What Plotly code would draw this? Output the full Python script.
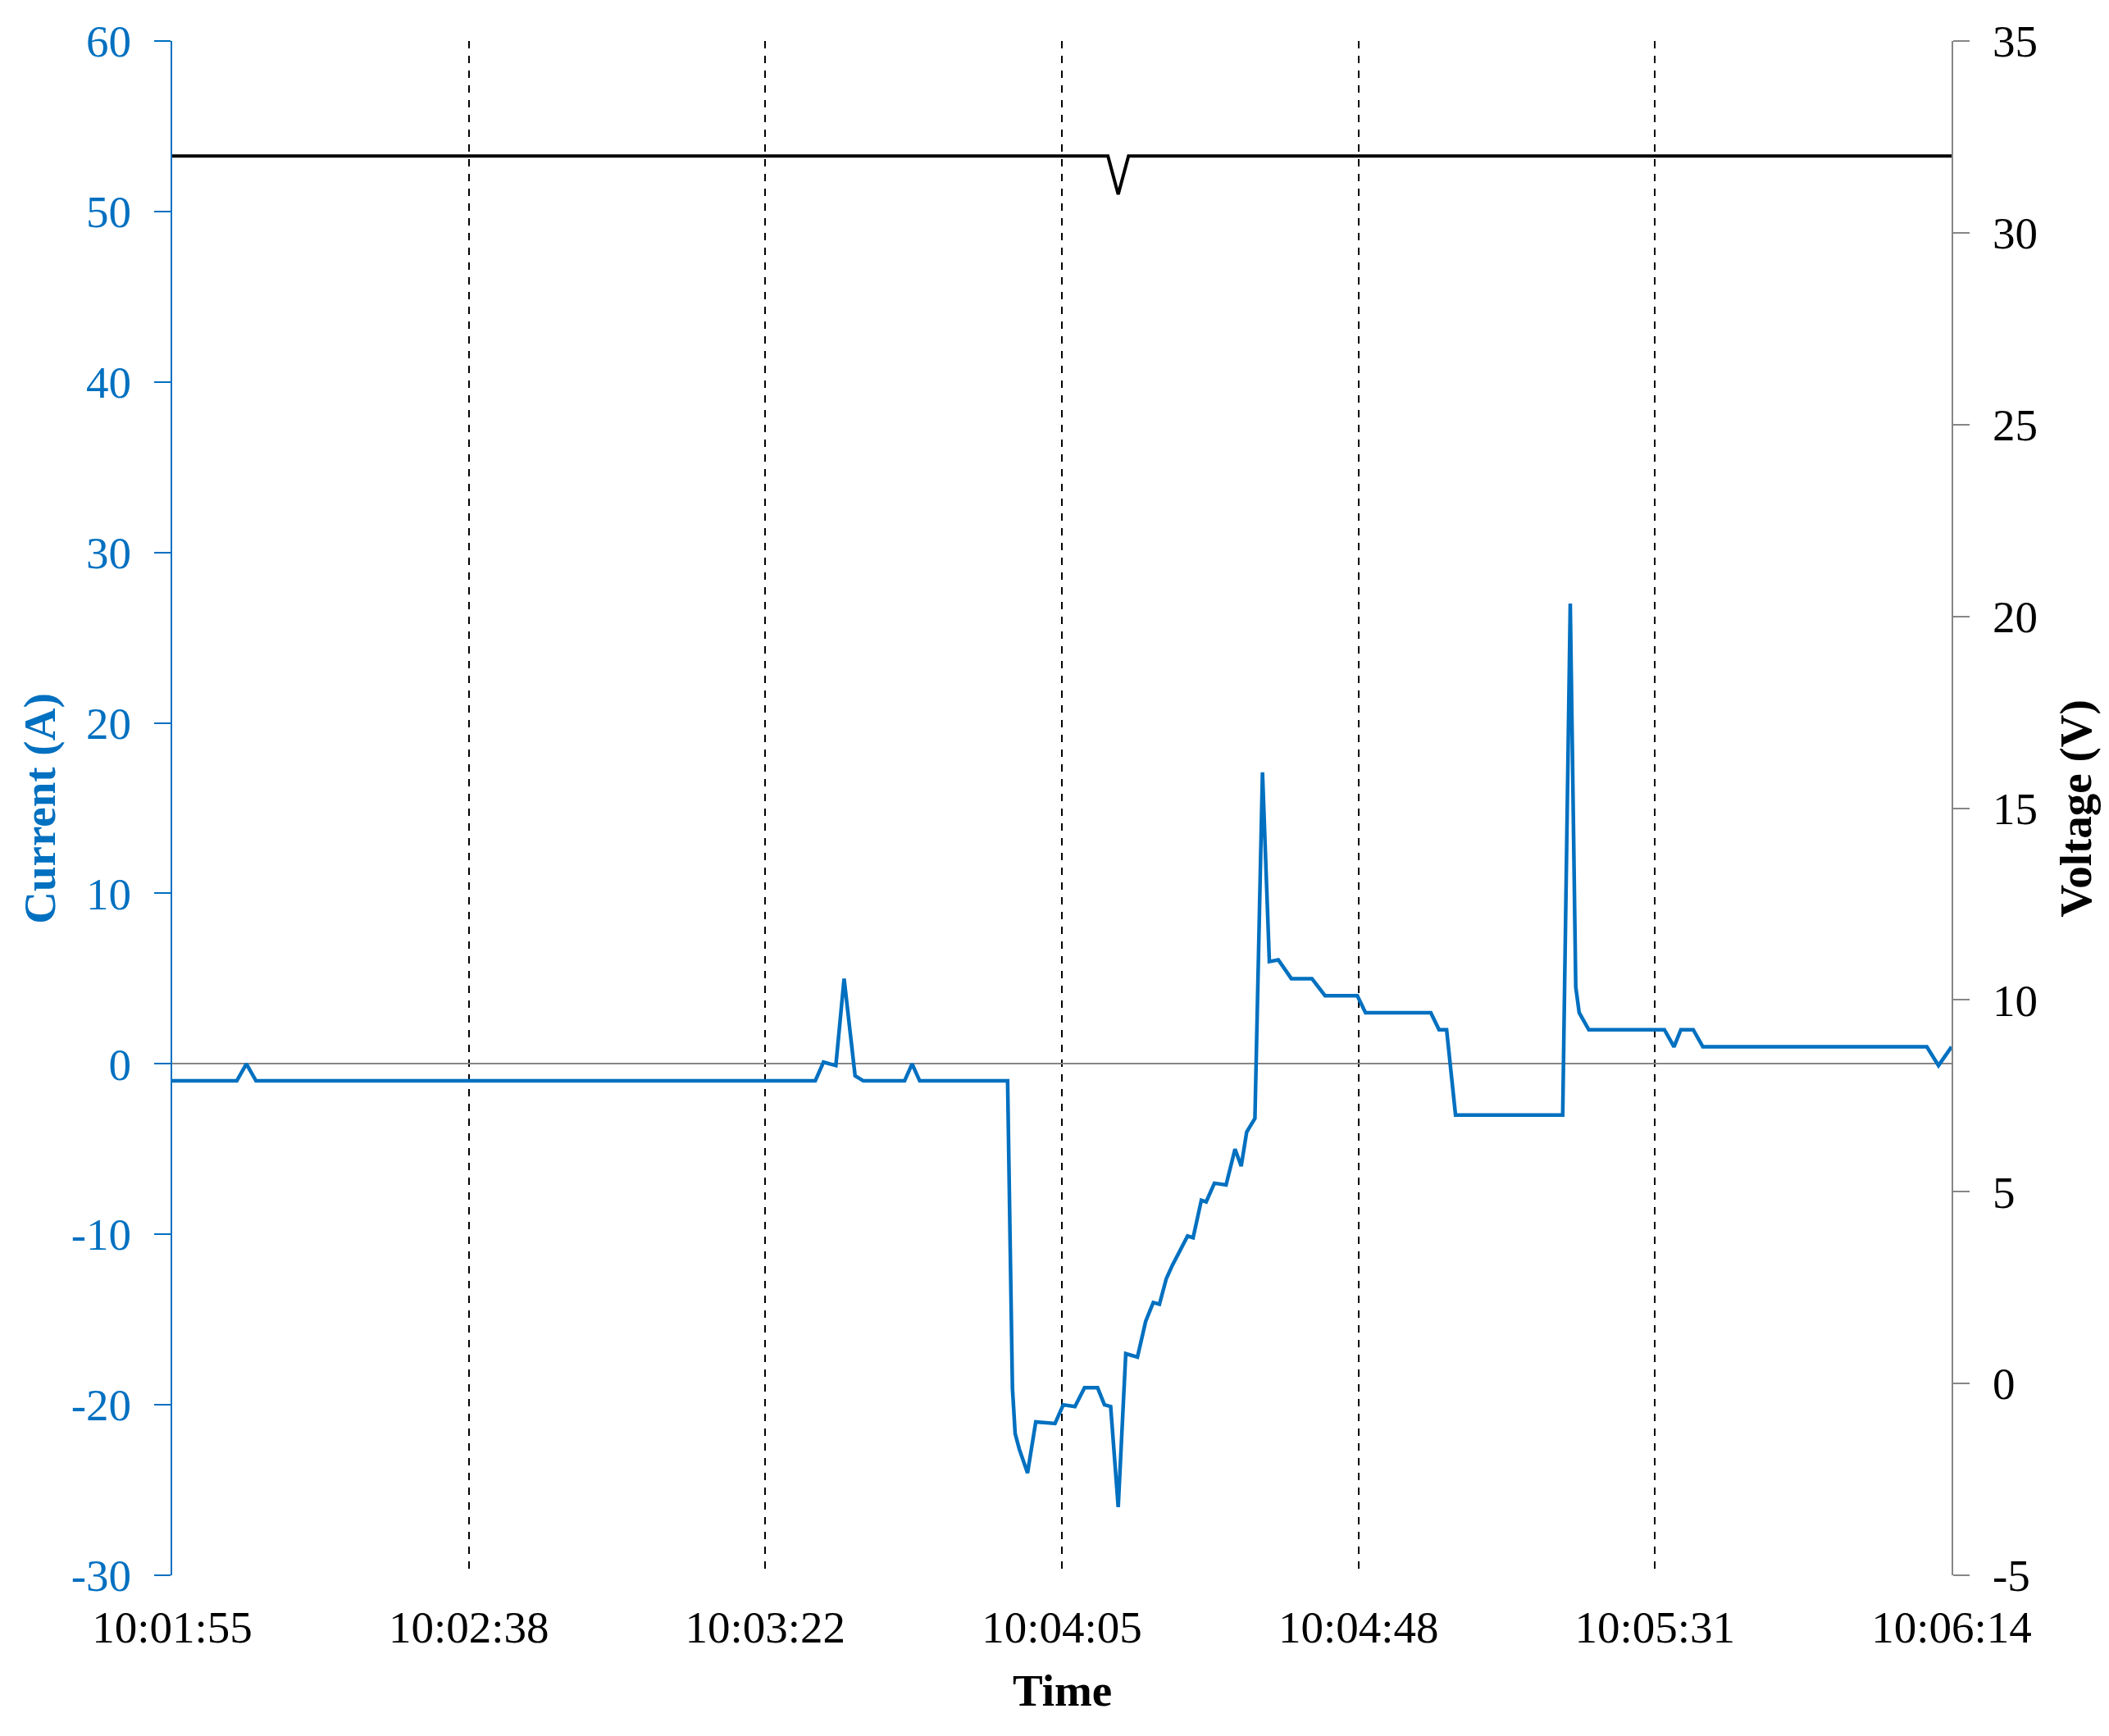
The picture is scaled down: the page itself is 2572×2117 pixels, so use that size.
import plotly.graph_objects as go

# time in seconds from 10:01:55
tick_labels = ["10:01:55", "10:02:38", "10:03:22", "10:04:05",
               "10:04:48", "10:05:31", "10:06:14"]
t_end = 259.0

current_ticks = [-30, -20, -10, 0, 10, 20, 30, 40, 50, 60]
voltage_ticks = [-5, 0, 5, 10, 15, 20, 25, 30, 35]

current_t = [0, 9.4, 10.8, 12.2, 93.6, 94.8, 96.6, 97.8, 99.4, 100.6,
             106.6, 107.7, 108.8, 121.6, 122.3, 122.7, 123.3, 124.5, 125.7,
             128.5, 129.7, 131.4, 132.8, 134.7, 135.7, 136.6, 137.7, 138.8,
             140.5, 141.7, 142.8, 143.7, 144.7, 145.6, 147.8, 148.6, 149.8,
             150.5, 151.7, 153.4, 154.7, 155.6, 156.4, 157.6, 158.7, 159.7,
             161.0, 162.9, 165.9, 167.8, 172.5, 173.7, 183.2, 184.4, 185.5,
             186.8, 202.4, 203.5, 204.3, 204.8, 206.2, 217.2, 218.6, 219.6,
             221.4, 222.8, 255.4, 257.1, 259.0]
current_a = [-1.0, -1.0, 0.0, -1.0, -1.0, 0.1, -0.1, 5.0, -0.7, -1.0,
             -1.0, 0.0, -1.0, -1.0, -19.0, -21.7, -22.6, -24.0, -21.0,
             -21.1, -20.0, -20.1, -19.0, -19.0, -20.0, -20.1, -26.0, -17.0,
             -17.2, -15.1, -14.0, -14.1, -12.6, -11.8, -10.1, -10.2, -8.0,
             -8.1, -7.0, -7.1, -5.0, -6.0, -4.0, -3.2, 17.1, 6.0,
             6.1, 5.0, 5.0, 4.0, 4.0, 3.0, 3.0, 2.0, 2.0,
             -3.0, -3.0, 27.0, 4.5, 3.0, 2.0, 2.0, 1.0, 2.0,
             2.0, 1.0, 1.0, -0.1, 1.0]

voltage_t = [0, 136.2, 137.7, 139.2, 259.0]
voltage_v = [32.0, 32.0, 31.0, 32.0, 32.0]

BLUE = "#0070C0"
GREY = "#868686"
FONT = "Liberation Serif"
FS = 55

fig = go.Figure()
fig.add_trace(go.Scatter(x=current_t, y=current_a, name="Current", mode="lines",
                         line=dict(color=BLUE, width=4.5)))
fig.add_trace(go.Scatter(x=voltage_t, y=voltage_v, name="Voltage", mode="lines",
                         yaxis="y2", line=dict(color="black", width=4)))

tick_vals = [i * t_end / 6 for i in range(7)]

fig.update_layout(
    width=2556, height=2101,
    margin=dict(l=202, r=184, t=35, b=188),
    paper_bgcolor="white", plot_bgcolor="white",
    showlegend=False,
    font=dict(family=FONT, size=FS, color="black"),
    xaxis=dict(range=[0, t_end], tickvals=tick_vals, ticktext=tick_labels,
               showgrid=True, gridcolor="black", gridwidth=1.5, griddash="dash",
               showline=False, zeroline=False, ticks="",
               ticklabelstandoff=26),
    yaxis=dict(range=[-30, 60], tickvals=current_ticks,
               ticktext=[str(v) for v in current_ticks], showgrid=False,
               showline=True, linecolor=BLUE, linewidth=2,
               ticks="outside", ticklen=20, tickwidth=2, tickcolor=BLUE,
               tickfont=dict(color=BLUE), ticklabelstandoff=17,
               zeroline=True, zerolinecolor=GREY, zerolinewidth=2),
    yaxis2=dict(range=[-5, 35], tickvals=voltage_ticks,
                ticktext=[str(v) for v in voltage_ticks],
                overlaying="y", side="right",
                showgrid=False, zeroline=False,
                showline=True, linecolor=GREY, linewidth=2,
                ticks="outside", ticklen=20, tickwidth=2, tickcolor=GREY,
                tickfont=dict(color="black"), ticklabelstandoff=17),
)

fig.add_annotation(text="<b>Current (A)</b>", xref="paper", yref="paper",
                   x=-0.0745, y=0.5, textangle=-90, showarrow=False,
                   xanchor="center", yanchor="middle",
                   font=dict(family=FONT, size=FS, color=BLUE))
fig.add_annotation(text="<b>Voltage (V)</b>", xref="paper", yref="paper",
                   x=1.07, y=0.5, textangle=-90, showarrow=False,
                   xanchor="center", yanchor="middle",
                   font=dict(family=FONT, size=FS, color="black"))
fig.add_annotation(text="<b>Time</b>", xref="paper", yref="paper",
                   x=0.5, y=-0.0752, showarrow=False,
                   xanchor="center", yanchor="middle",
                   font=dict(family=FONT, size=FS, color="black"))

fig.write_html("out.html")
